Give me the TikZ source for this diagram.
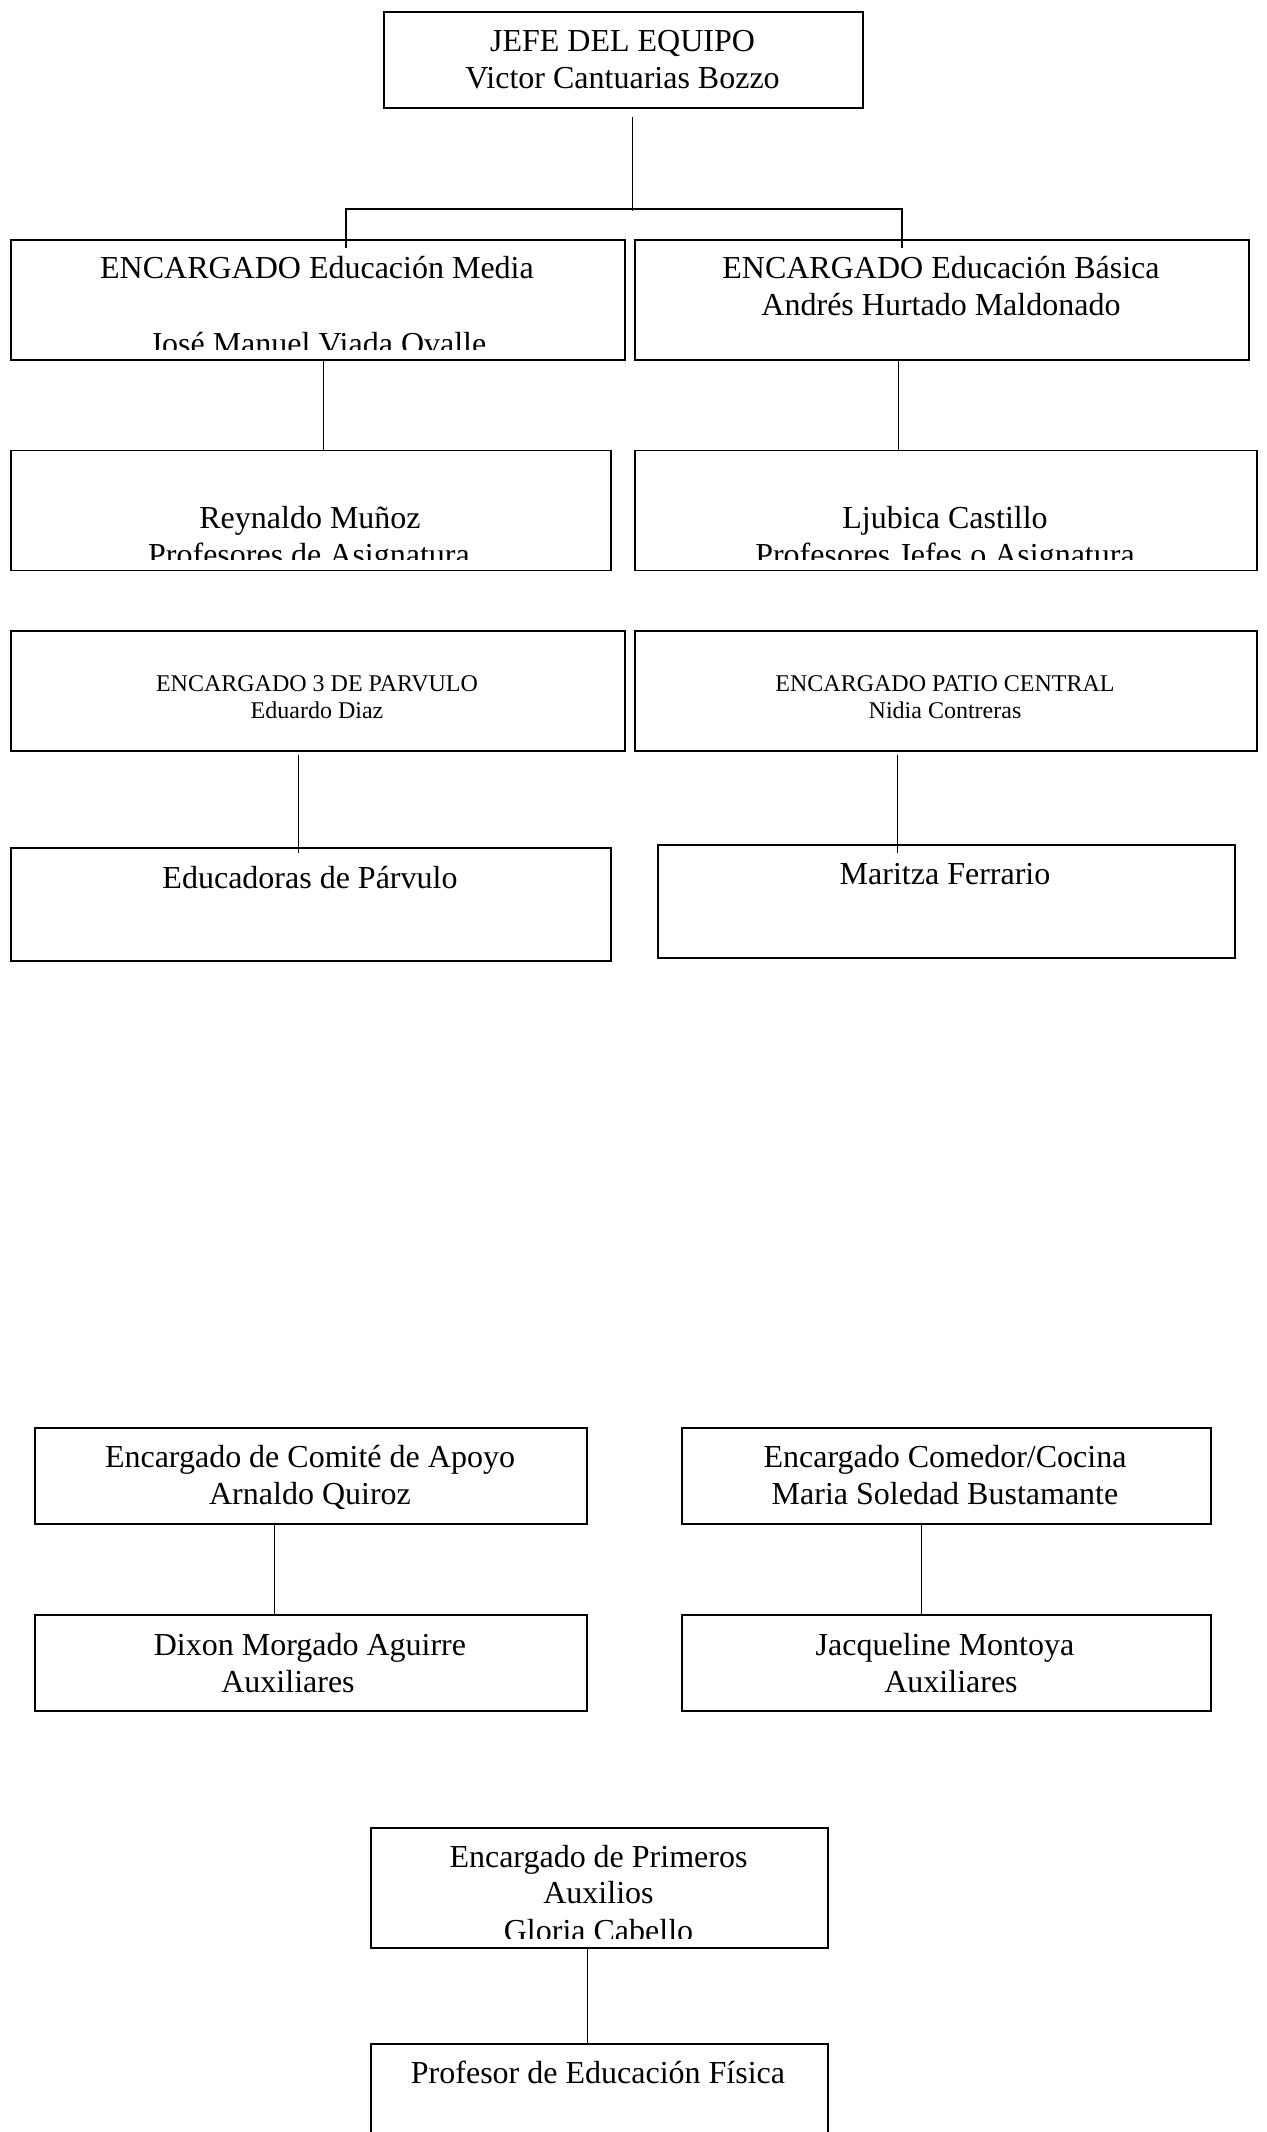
\documentclass[tikz,border=0pt]{standalone}
\usepackage{fontspec}
\setmainfont{Liberation Serif}
\begin{document}
\begin{tikzpicture}[x=1pt,y=-1pt,
  box/.style={draw,line width=1.6pt,rectangle,inner sep=0pt,anchor=north west},
  big/.style={anchor=base,inner sep=0pt,font=\fontsize{32}{37}\selectfont},
  small/.style={anchor=base,inner sep=0pt,font=\fontsize{24}{28}\selectfont},
  conn/.style={line width=1.2pt},
  barline/.style={line width=1.8pt}]
\clip (0,0) rectangle (1266,2132);
\fill[white] (0,0) rectangle (1266,2132);
% boxes
\node[box,minimum width=479pt,minimum height=96pt] (jefe) at (383,11) {};
\node[box,minimum width=614pt,minimum height=120pt] (media) at (10,239) {};
\node[box,minimum width=614pt,minimum height=120pt] (basica) at (634,239) {};
\node[box,minimum width=600pt,minimum height=120pt] (reyn) at (10,449.5) {};
\node[box,minimum width=622pt,minimum height=120pt] (ljub) at (634,449.5) {};
\node[box,minimum width=614pt,minimum height=120pt] (parv) at (10,630) {};
\node[box,minimum width=622pt,minimum height=120pt] (patio) at (634,630) {};
\node[box,minimum width=600pt,minimum height=113pt] (educ) at (10,847) {};
\node[box,minimum width=577pt,minimum height=113pt] (mari) at (657,844) {};
\node[box,minimum width=552pt,minimum height=96pt] (comite) at (34,1427) {};
\node[box,minimum width=529pt,minimum height=96pt] (comedor) at (681,1427) {};
\node[box,minimum width=552pt,minimum height=96pt] (dixon) at (34,1614) {};
\node[box,minimum width=529pt,minimum height=96pt] (jacq) at (681,1614) {};
\node[box,minimum width=457pt,minimum height=120pt] (prim) at (370,1827) {};
\node[box,minimum width=457pt,minimum height=200pt] (prof) at (370,2043) {};
% connectors
\draw[conn] ([xshift=9.5pt,yshift=-8pt]jefe.south) -- ++(0,94);
\draw[barline] ([xshift=28pt,yshift=-9pt]media.north) -- ++(0,-39) -| ([xshift=-40pt,yshift=-9pt]basica.north);
\draw[conn] ([xshift=5.5pt]media.south) -- ([xshift=5.5pt]media.south |- reyn.north);
\draw[conn] ([xshift=-43pt]basica.south) -- ([xshift=-43pt]basica.south |- ljub.north);
\draw[conn] ([xshift=-19pt,yshift=-3pt]parv.south) -- ++(0,98);
\draw[conn] ([xshift=-48pt,yshift=-3pt]patio.south) -- ++(0,98);
\draw[conn] ([xshift=-36pt]comite.south) -- ([xshift=-36pt]comite.south |- dixon.north);
\draw[conn] ([xshift=-24.5pt]comedor.south) -- ([xshift=-24.5pt]comedor.south |- jacq.north);
\draw[conn] ([xshift=-11.5pt]prim.south) -- ([xshift=-11.5pt]prim.south |- prof.north);
% texts
\node[big] (t1) at (622.5,52) {JEFE DEL EQUIPO};
\node[big] (t2) at (622.5,89) {Victor Cantuarias Bozzo};
\node[big] (t3) at (317,279) {ENCARGADO Educación Media};
\begin{scope}
\clip (media.north west) rectangle ([yshift=11pt]media.south east);
\node[big] (t4) at (318,354) {José Manuel Viada Ovalle};
\end{scope}
\node[big] (t5) at (941,279) {ENCARGADO Educación Básica};
\node[big] (t6) at (941,316) {Andrés Hurtado Maldonado};
\node[big] (t7) at (310,528) {Reynaldo Muñoz};
\node[big] (t9) at (945,528) {Ljubica Castillo};
\begin{scope}
\clip (reyn.north west) rectangle ([yshift=11.5pt]ljub.south east);
\node[big] (t8) at (309,565) {Profesores de Asignatura};
\node[big] (t10) at (945,565) {Profesores Jefes o Asignatura};
\end{scope}
\node[small] (t11) at (317,691) {ENCARGADO 3 DE PARVULO};
\node[small] (t12) at (317,718) {Eduardo Diaz};
\node[small] (t13) at (945,691) {ENCARGADO PATIO CENTRAL};
\node[small] (t14) at (945,718) {Nidia Contreras};
\node[big] (t15) at (310,888) {Educadoras de Párvulo};
\node[big] (t16) at (945,884) {Maritza Ferrario};
\node[big] (t17) at (310,1467) {Encargado de Comité de Apoyo};
\node[big] (t18) at (310,1504) {Arnaldo Quiroz};
\node[big] (t19) at (945,1467) {Encargado Comedor/Cocina};
\node[big] (t20) at (945,1504) {Maria Soledad Bustamante};
\node[big] (t21) at (310,1655) {Dixon Morgado Aguirre};
\node[big] (t22) at (288,1692) {Auxiliares};
\node[big] (t23) at (945,1655) {Jacqueline Montoya};
\node[big] (t24) at (951,1692) {Auxiliares};
\node[big] (t25) at (598.5,1867) {Encargado de Primeros};
\node[big] (t26) at (598.5,1903) {Auxilios};
\begin{scope}
\clip (prim.north west) rectangle ([yshift=10pt]prim.south east);
\node[big] (t27) at (598.5,1941) {Gloria Cabello};
\end{scope}
\node[big] (t28) at (598,2083) {Profesor de Educación Física};
\end{tikzpicture}
\end{document}
